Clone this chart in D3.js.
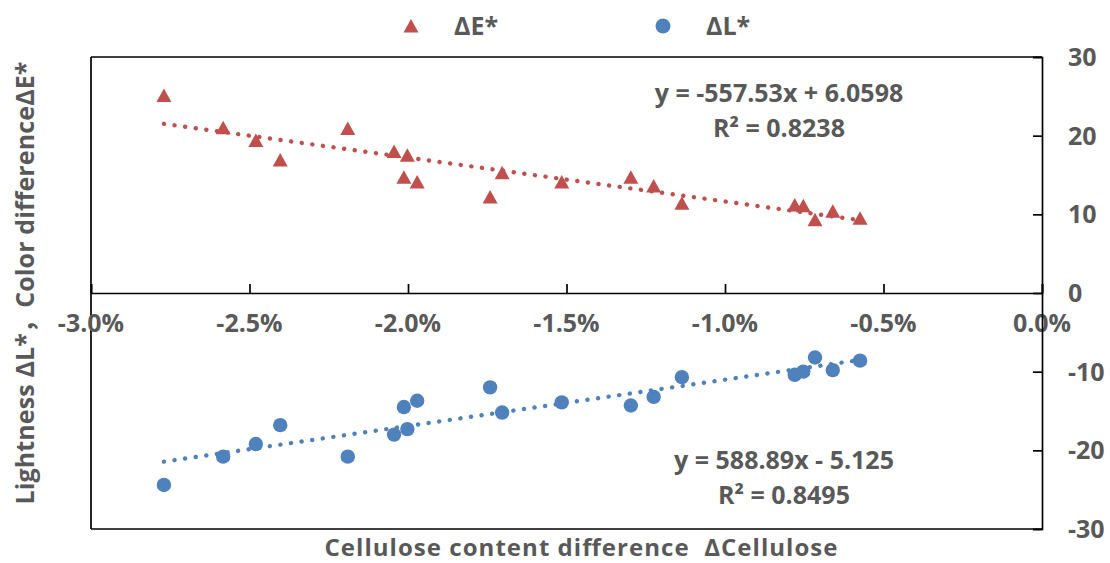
<!DOCTYPE html>
<html>
<head>
<meta charset="utf-8">
<script src="https://cdn.jsdelivr.net/npm/d3@7"></script>
<style>
  html, body { margin: 0; padding: 0; background: #fff; }
  svg { display: block; }
  text { font-family: "Open Sans", "Noto Sans CJK SC", sans-serif; font-weight: bold; fill: #595959; white-space: pre; }
</style>
</head>
<body>
<svg id="chart" width="1110" height="563"></svg>
<script>
// ---- data ----
const cellulose = [-2.770, -2.583, -2.480, -2.403, -2.190, -2.044, -2.002, -2.013, -1.971, -1.741,
                   -1.703, -1.515, -1.297, -1.225, -1.136, -0.780, -0.753, -0.716, -0.660, -0.574]; // percent
const deltaE = [25.1, 21.0, 19.4, 16.9, 20.9, 18.0, 17.5, 14.7, 14.1, 12.2,
                15.3, 14.1, 14.7, 13.6, 11.4, 11.2, 11.1, 9.3, 10.4, 9.5];
const deltaL = [-24.4, -20.8, -19.2, -16.8, -20.8, -18.0, -17.3, -14.5, -13.7, -12.0,
                -15.2, -13.9, -14.3, -13.2, -10.7, -10.4, -10.0, -8.2, -9.8, -8.6];
const trendE = [-557.53, 6.0598];   // slope, intercept (x as fraction)
const trendL = [588.89, -5.125];
const eqLabels = ["y = -557.53x + 6.0598", "R² = 0.8238", "y = 588.89x - 5.125", "R² = 0.8495"];
const xTicks = [-3.0, -2.5, -2.0, -1.5, -1.0, -0.5, 0.0];
const yTicks = [30, 20, 10, 0, -10, -20, -30];
const seriesNames = ["ΔE*", "ΔL*"];
const xTitle = "Cellulose content difference  ΔCellulose";
const yTitle = "Lightness ΔL*，Color differenceΔE*";

const red = "#C0504D", blue = "#4F81BD";

const svg = d3.select("#chart");
const x = d3.scaleLinear().domain([-3, 0]).range([91, 1042]);
const y = d3.scaleLinear().domain([-30, 30]).range([529, 57]);

// frame: left, top, bottom borders
const frame = svg.append("g").attr("stroke", "#000").attr("stroke-width", 1.7).attr("fill", "none");
frame.append("line").attr("x1", x(-3)).attr("x2", x(-3)).attr("y1", y(30)).attr("y2", y(-30));
frame.append("line").attr("x1", x(-3)).attr("x2", x(0)).attr("y1", y(30)).attr("y2", y(30));
frame.append("line").attr("x1", x(-3)).attr("x2", x(0)).attr("y1", y(-30)).attr("y2", y(-30));

// x axis at y=0, ticks pointing up
const xAxis = d3.axisTop(x).tickValues(xTicks).tickSize(9).tickFormat("");
const gx = svg.append("g").attr("transform", `translate(0,${y(0)})`).call(xAxis);
gx.select(".domain").attr("stroke", "#000").attr("stroke-width", 1.7);
gx.selectAll(".tick line").attr("stroke", "#000").attr("stroke-width", 1.7);
svg.append("g").selectAll("text").data(xTicks).join("text")
  .attr("x", d => x(d)).attr("y", y(0) + 39)
  .attr("text-anchor", "middle").attr("font-size", 25)
  .text(d => d.toFixed(1) + "%");

// y axis at x=0 (right side), ticks pointing left
const yAxis = d3.axisLeft(y).tickValues(yTicks).tickSize(9).tickFormat("");
const gy = svg.append("g").attr("transform", `translate(${x(0)},0)`).call(yAxis);
gy.select(".domain").attr("stroke", "#000").attr("stroke-width", 1.7);
gy.selectAll(".tick line").attr("stroke", "#000").attr("stroke-width", 1.7);
svg.append("g").selectAll("text").data(yTicks).join("text")
  .attr("x", 1068).attr("y", d => y(d) + 9)
  .attr("text-anchor", "start").attr("font-size", 25)
  .text(d => d);

// markers
const triPath = "M0,-7 L7.5,6.5 L-7.5,6.5 Z";
svg.append("g").selectAll("path").data(cellulose).join("path")
  .attr("d", triPath).attr("fill", red)
  .attr("transform", (d, i) => `translate(${x(d)},${y(deltaE[i])})`);
svg.append("g").selectAll("circle").data(cellulose).join("circle")
  .attr("cx", d => x(d)).attr("cy", (d, i) => y(deltaL[i])).attr("r", 7.2).attr("fill", blue);

// trendlines
const xr = d3.extent(cellulose);
const line = d3.line().x(d => x(d[0])).y(d => y(d[1]));
[[trendE, red], [trendL, blue]].forEach(([t, c]) => {
  const pts = xr.map(v => [v, t[0] * v / 100 + t[1]]);
  svg.append("path").attr("d", line(pts)).attr("fill", "none")
    .attr("stroke", c).attr("stroke-width", 4.4)
    .attr("stroke-linecap", "round").attr("stroke-dasharray", "0.1 10.6");
});

// equations
const eq = svg.append("g").attr("font-size", 25).attr("text-anchor", "middle");
eq.append("text").attr("x", 779).attr("y", 102).text(eqLabels[0]);
eq.append("text").attr("x", 779).attr("y", 137).text(eqLabels[1]);
eq.append("text").attr("x", 784).attr("y", 469).text(eqLabels[2]);
eq.append("text").attr("x", 784).attr("y", 504).text(eqLabels[3]);

// legend
svg.append("path").attr("d", triPath).attr("fill", red).attr("transform", "translate(411,26)");
svg.append("text").attr("x", 454).attr("y", 35).attr("font-size", 25).text(seriesNames[0]);
svg.append("circle").attr("cx", 663).attr("cy", 26).attr("r", 7.5).attr("fill", blue);
svg.append("text").attr("x", 706).attr("y", 35).attr("font-size", 25).text(seriesNames[1]);

// axis titles
svg.append("text").attr("x", 581).attr("y", 556).attr("text-anchor", "middle")
  .attr("font-size", 24).attr("textLength", 513).attr("lengthAdjust", "spacing")
  .text(xTitle);
svg.append("text").attr("transform", "translate(34,283) rotate(-90)")
  .attr("text-anchor", "middle").attr("font-size", 25)
  .attr("textLength", 443).attr("lengthAdjust", "spacing").text(yTitle);
</script>
</body>
</html>
